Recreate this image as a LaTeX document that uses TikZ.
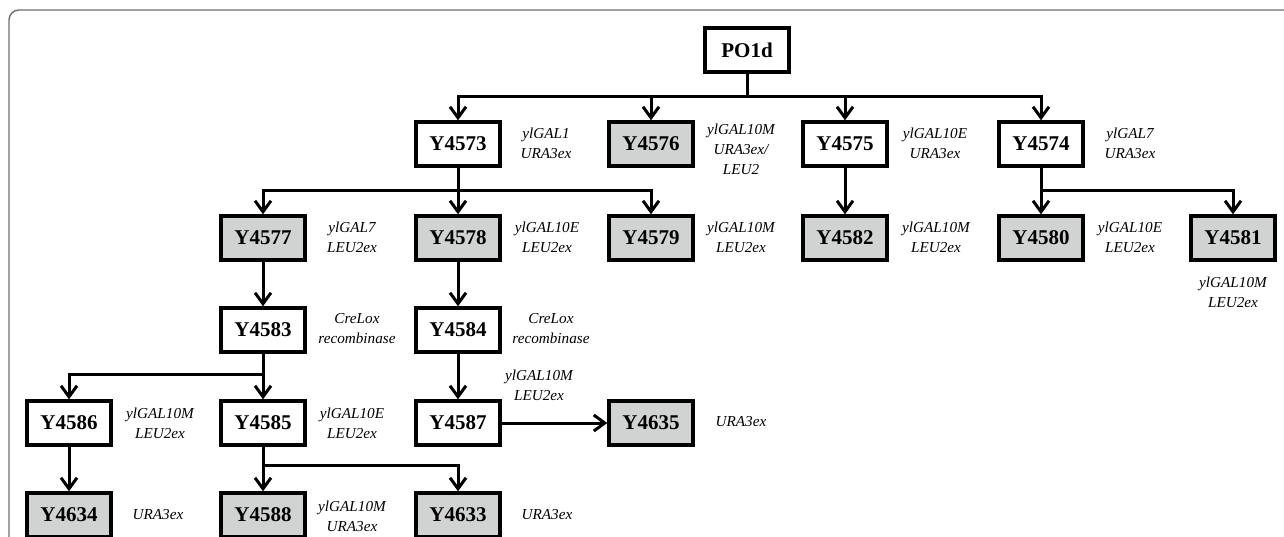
\documentclass[tikz,border=0pt]{standalone}
\usepackage{fontspec}
\setmainfont{Liberation Serif}
\usepackage{xcolor}
\usetikzlibrary{arrows.meta,positioning}

\definecolor{boxgrey}{RGB}{209,211,210}
\definecolor{framegrey}{RGB}{110,110,110}

\begin{document}
\begin{tikzpicture}
            [x=0.5pt,y=-0.5pt,
             strain/.style={draw,line width=1.7pt,minimum width=42pt,minimum height=22pt,inner sep=0pt,font=\fontsize{10.5}{12}\selectfont\bfseries},
             final/.style={strain,fill=boxgrey},
             note/.style={align=center,inner sep=0pt,font=\fontsize{7.6}{10}\selectfont\itshape},
             trunk/.style={line width=1.5pt},
             link/.style={trunk,-{Straight Barb[length=5.5pt,width=8pt]}}]
            \useasboundingbox (0,0) rectangle (1284,536);
            \clip (0,0) rectangle (1284,536);
            \draw[framegrey, line width=0.7pt, rounded corners=5pt] (9,10) rectangle (1320,580);

            % parent strain
            \node[strain] (po) at (747,50) {PO1d};

            % first round
            \node[strain] (y4573) at (458,144) {Y4573};
            \node[final]  (y4576) at (651,144) {Y4576};
            \node[strain] (y4575) at (845,144) {Y4575};
            \node[strain] (y4574) at (1041,144) {Y4574};
            \node[note] (n4573) at (546,143) {ylGAL1\\URA3ex};
            \node[note] (n4576) at (741,149) {ylGAL10M\\URA3ex/\\LEU2};
            \node[note] (n4575) at (935,143) {ylGAL10E\\URA3ex};
            \node[note] (n4574) at (1130,143) {ylGAL7\\URA3ex};

            % second round
            \node[final] (y4577) at (263,238) {Y4577};
            \node[final] (y4578) at (458,238) {Y4578};
            \node[final] (y4579) at (651,238) {Y4579};
            \node[final] (y4582) at (845,238) {Y4582};
            \node[final] (y4580) at (1041,238) {Y4580};
            \node[final] (y4581) at (1233,238) {Y4581};
            \node[note] (n4577) at (352,237) {ylGAL7\\LEU2ex};
            \node[note] (n4578) at (547,237) {ylGAL10E\\LEU2ex};
            \node[note] (n4579) at (741,237) {ylGAL10M\\LEU2ex};
            \node[note] (n4582) at (936,237) {ylGAL10M\\LEU2ex};
            \node[note] (n4580) at (1130,237) {ylGAL10E\\LEU2ex};
            \node[note] (n4581) at (1233,292) {ylGAL10M\\LEU2ex};

            % marker rescue
            \node[strain] (y4583) at (263,330) {Y4583};
            \node[strain] (y4584) at (458,330) {Y4584};
            \node[note] (n4583) at (357,329) {CreLox\\recombinase};
            \node[note] (n4584) at (551,329) {CreLox\\recombinase};

            % third round
            \node[strain] (y4586) at (69,423) {Y4586};
            \node[strain] (y4585) at (263,423) {Y4585};
            \node[strain] (y4587) at (458,423) {Y4587};
            \node[final]  (y4635) at (651,423) {Y4635};
            \node[note] (n4586) at (160,423) {ylGAL10M\\LEU2ex};
            \node[note] (n4585) at (352,423) {ylGAL10E\\LEU2ex};
            \node[note] (n4587) at (539,385) {ylGAL10M\\LEU2ex};
            \node[note] (n4635) at (741,422) {URA3ex};

            % fourth round
            \node[final] (y4634) at (69,515) {Y4634};
            \node[final] (y4588) at (263,515) {Y4588};
            \node[final] (y4633) at (458,515) {Y4633};
            \node[note] (n4634) at (158,515) {URA3ex};
            \node[note] (n4588) at (352,516) {ylGAL10M\\URA3ex};
            \node[note] (n4633) at (547,515) {URA3ex};

            % branch points
            \path (po.south) ++(0,23) coordinate (s0);
            \path (y4573.south) ++(0,23) coordinate (s1);
            \path (y4574.south) ++(0,23) coordinate (s2);
            \path (y4583.south) ++(0,21) coordinate (s3);
            \path (y4585.south) ++(0,19) coordinate (s4);

            \draw[trunk] (po) -- (s0);
            \foreach \t in {y4573,y4576,y4575,y4574}
              \draw[link] (s0) -| (\t);
            \draw[trunk] (y4573) -- (s1);
            \foreach \t in {y4577,y4578,y4579}
              \draw[link] (s1) -| (\t);
            \draw[trunk] (y4574) -- (s2);
            \foreach \t in {y4580,y4581}
              \draw[link] (s2) -| (\t);
            \draw[link] (y4575) -- (y4582);
            \draw[link] (y4577) -- (y4583);
            \draw[link] (y4578) -- (y4584);
            \draw[trunk] (y4583) -- (s3);
            \foreach \t in {y4586,y4585}
              \draw[link] (s3) -| (\t);
            \draw[link] (y4584) -- (y4587);
            \draw[link] (y4587) -- (y4635);
            \draw[link] (y4586) -- (y4634);
            \draw[trunk] (y4585) -- (s4);
            \foreach \t in {y4588,y4633}
              \draw[link] (s4) -| (\t);
\end{tikzpicture}
\end{document}
